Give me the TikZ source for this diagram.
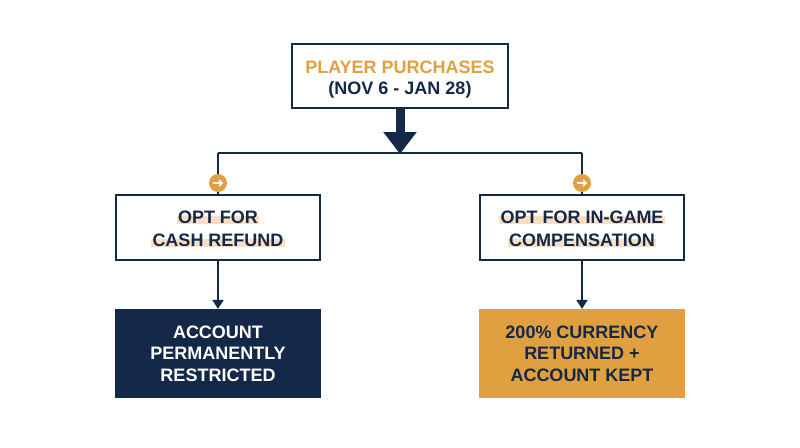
\documentclass[tikz,border=0pt]{standalone}
\usepackage{fontspec}
\setmainfont{Liberation Sans}
\usetikzlibrary{arrows.meta,positioning,backgrounds}
\definecolor{navy}{RGB}{20, 40, 72}
\definecolor{gold}{RGB}{224, 160, 64}
\definecolor{peach}{RGB}{250, 222, 196}
\tikzset{
  box/.style={draw=navy, line width=2.2pt, minimum width=204, minimum height=65, inner sep=0},
  txt/.style={font=\bfseries\fontsize{18}{21}\selectfont, text=navy, inner sep=1pt},
  conn/.style={draw=navy, line width=2pt},
  arr/.style={conn, -{Triangle[length=9pt, width=11pt]}},
  badge/.style={circle, fill=gold, minimum size=18, inner sep=0},
  tick/.style={white, line width=1.3pt, -{Straight Barb[length=3pt, width=6pt]}},
}
\begin{document}
\begin{tikzpicture}[x=1pt, y=-1pt]
\useasboundingbox (0,0) rectangle (800,447);

% Top box
\node[box, minimum width=216, minimum height=64] (top) at (400,76) {};
\node[txt, text=gold] (top1) at (400,67) {PLAYER PURCHASES};
\node[txt] (top2) at (400,90) {(NOV 6 - JAN 28)};

% Split line
\coordinate (split) at (400,153);
\coordinate (splitL) at (218,153);
\coordinate (splitR) at (582,153);
\draw[navy, line width=9pt, -{Triangle[length=22pt, width=32pt]}] (top.south) -- ([yshift=-1pt]split);
\draw[conn] (splitL) -- (splitR);

% Option boxes
\node[box] (cash) at (218,227.5) {};
\node[txt] (cash1) at (218,217) {OPT FOR};
\node[txt] (cash2) at (218,240) {CASH REFUND};
\node[box] (game) at (582,227.5) {};
\node[txt] (game1) at (582,217) {OPT FOR IN-GAME};
\node[txt] (game2) at (582,240) {COMPENSATION};

% Highlights
\begin{scope}[on background layer]
\fill[white] (0,0) rectangle (800,447);
\foreach \n in {cash1,cash2,game1,game2}
  \fill[peach] ([yshift=1pt]\n.south west) rectangle ([yshift=9pt]\n.south east);
\end{scope}

% Branches with badges
\draw[conn] (splitL) -- (cash.north);
\draw[conn] (splitR) -- (game.north);
\foreach \b/\x in {bL/218,bR/582} {
  \node[badge] (\b) at (\x,183) {};
  \draw[tick] ([xshift=-5pt]\b.center) -- ([xshift=5pt]\b.center);
}

% Result boxes
\node[box, fill=navy, minimum height=87] (restrict) at (218,353.5) {};
\node[txt, text=white, align=center, font=\bfseries\fontsize{18}{21.5}\selectfont] at (restrict) {ACCOUNT\\PERMANENTLY\\RESTRICTED};
\node[box, draw=gold, fill=gold, minimum height=87] (kept) at (582,353.5) {};
\node[txt, align=center, font=\bfseries\fontsize{18}{21.5}\selectfont] at (kept) {200\% CURRENCY\\RETURNED +\\ACCOUNT KEPT};

\draw[arr] (cash.south) -- (restrict.north);
\draw[arr] (game.south) -- (kept.north);
\end{tikzpicture}
\end{document}
